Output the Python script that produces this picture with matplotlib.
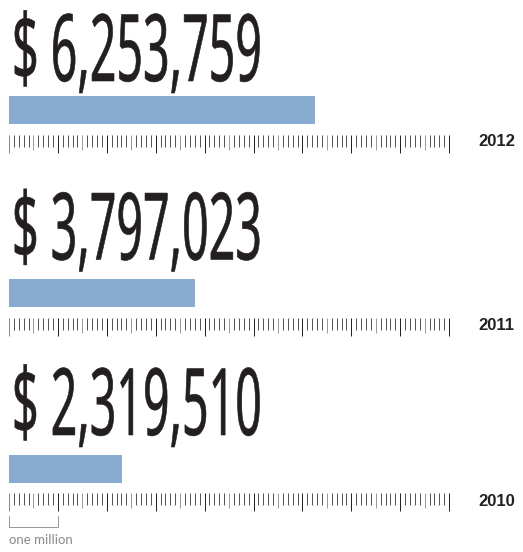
import numpy as np
import matplotlib
matplotlib.use("Agg")
import matplotlib.pyplot as plt
from matplotlib import font_manager as fm
from matplotlib.patheffects import AbstractPathEffect
from matplotlib.transforms import Affine2D

# =========================
# Data
# =========================
years = ["2012", "2011", "2010"]
amounts = [6253759, 3797023, 2319510]
ruler_max = 9  # millions

# =========================
# Layout (pixels, from top)
# =========================
W, H = 523, 552
PX_PER_M = 48.9        # pixels per million on the ruler
X0 = 9                 # pixel where zero sits
baseline_y = [81, 259.5, 435]
bar_top = [96, 279, 455]
bar_h = 28
ruler_top = [135, 318, 493]
year_y = [142, 325, 501]
NUM_LEFT, NUM_RIGHT = 12, 262   # ink extent of the big numbers

BAR_COLOR = "#88acd1"
INK = "#231f20"


class Squeeze(AbstractPathEffect):
    """Condense glyphs horizontally around the text origin, with a thin
    outline in the fill colour to add a little weight."""

    def __init__(self, sx, stroke_px=0.6):
        super().__init__()
        self.sx = sx
        self.stroke_px = stroke_px

    def draw_path(self, renderer, gc, tpath, affine, rgbFace=None):
        x0 = affine.get_matrix()[0, 2]
        squeeze = Affine2D().translate(-x0, 0).scale(self.sx, 1).translate(x0, 0)
        gc0 = renderer.new_gc()
        gc0.copy_properties(gc)
        gc0.set_linewidth(self.stroke_px * 72 / 100)
        gc0.set_foreground(rgbFace)
        gc0.set_joinstyle("round")
        renderer.draw_path(gc0, tpath, affine + squeeze, rgbFace)
        gc0.restore()


num_font = fm.FontProperties(family="Noto Sans", stretch="extra-condensed",
                             weight="semibold", size=67)

fig = plt.figure(figsize=(W / 100, H / 100), dpi=100)
ax = fig.add_axes([0, 0, 1, 1])
ax.set_xlim(-X0 / PX_PER_M, (W - X0) / PX_PER_M)
ax.set_ylim(H, 0)
ax.axis("off")

px = 72 / 100  # one pixel in points
renderer = fig.canvas.get_renderer()

ticks = np.arange(0, ruler_max * 10 + 1) / 10

for i, (year, amt) in enumerate(zip(years, amounts)):
    # big number, condensed to the measured width
    t = ax.text((NUM_LEFT - X0) / PX_PER_M, baseline_y[i], f"$ {amt:,}",
                fontproperties=num_font, color=INK, ha="left", va="baseline")
    w = t.get_window_extent(renderer).width
    t.set_path_effects([Squeeze((NUM_RIGHT - NUM_LEFT) / w)])

    # bar
    ax.barh(bar_top[i] + bar_h / 2, amt / 1e6, height=bar_h, left=0,
            color=BAR_COLOR, edgecolor="none")

    # ruler
    top = ruler_top[i]
    for k, tk in enumerate(ticks):
        if k % 10 == 0:
            length, col = 18, ("#8a8a8a" if k == 0 else "#222222")
        elif k % 5 == 0:
            length, col = 15, "#9a9a9a"
        else:
            length, col = 12, "#555555"
        ax.vlines(tk, top, top + length, colors=col, linewidth=px)

    # year label
    ax.text((478 - X0) / PX_PER_M, year_y[i], year, family="Liberation Sans",
            weight="bold", fontsize=12, color=INK, ha="left", va="center")

# scale key: one million
ax.plot([0, 0, 1, 1], [516, 527, 527, 516], color="#9a9a9a", linewidth=px)
ax.text(0, 540, "one million", family="Lato", fontsize=9.5,
        color="#8a8a8a", ha="left", va="center")

fig.savefig("out.png", dpi=100, facecolor="white")
